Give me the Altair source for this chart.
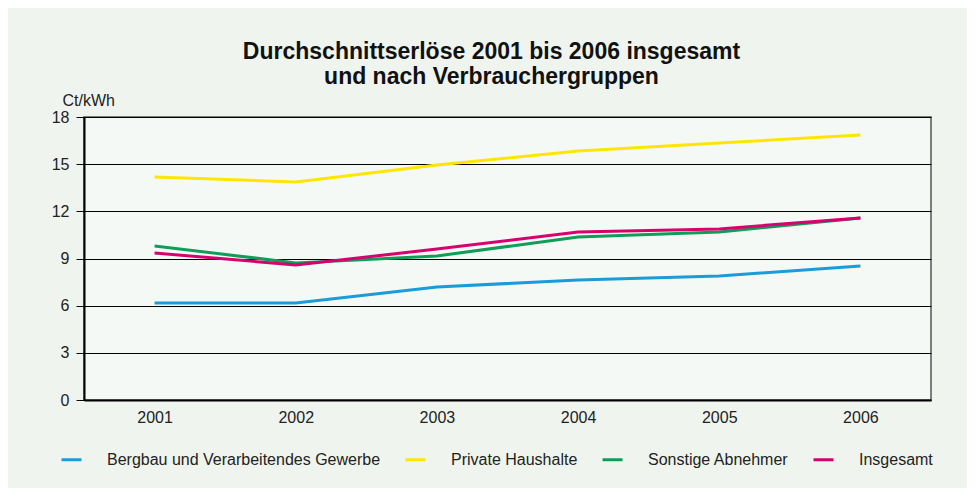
import altair as alt
import pandas as pd

years = ["2001", "2002", "2003", "2004", "2005", "2006"]
bergbau = [6.17, 6.17, 7.19, 7.63, 7.89, 8.52]
private = [14.18, 13.87, 14.95, 15.84, 16.35, 16.86]
sonstige = [9.80, 8.72, 9.16, 10.37, 10.69, 11.58]
insgesamt = [9.35, 8.59, 9.60, 10.69, 10.88, 11.58]

series = ["Bergbau und Verarbeitendes Gewerbe", "Private Haushalte",
          "Sonstige Abnehmer", "Insgesamt"]
colors = ["#1a9cd8", "#ffe600", "#0f9d58", "#d8006f"]
y_ticks = [0, 3, 6, 9, 12, 15, 18]

rows = []
for name, vals in zip(series, [bergbau, private, sonstige, insgesamt]):
    for yr, v in zip(years, vals):
        rows.append({"Jahr": yr, "Wert": v, "Reihe": name})
df = pd.DataFrame(rows)

FONT = "Liberation Sans, Arial, sans-serif"

chart = alt.Chart(df).mark_line(strokeWidth=3).encode(
    x=alt.X("Jahr:O", sort=years, axis=alt.Axis(
        labelAngle=0, title=None, ticks=False, domainColor="black",
        domainWidth=2, labelFontSize=16, labelPadding=9, grid=False,
        labelColor="#222")),
    y=alt.Y("Wert:Q", scale=alt.Scale(domain=[0, 18], nice=False), axis=alt.Axis(
        values=y_ticks, title="Ct/kWh", titleAngle=0, titleX=-22, titleY=-12,
        titleAlign="left", titleBaseline="alphabetic", titleFontWeight="normal",
        titleFontSize=16, titleColor="#222", tickSize=8, tickColor="black",
        domainColor="black", domainWidth=2, gridColor="black", gridOpacity=1,
        gridWidth=1.2, labelFontSize=16, labelPadding=7, labelColor="#222")),
    color=alt.Color("Reihe:N", sort=series, scale=alt.Scale(domain=series, range=colors),
                    legend=alt.Legend(
                        orient="none", legendX=-24, legendY=331,
                        direction="horizontal", title=None, symbolType="stroke",
                        symbolSize=400, symbolStrokeWidth=3, labelFontSize=16,
                        labelOffset=24, columnPadding=18, padding=0,
                        labelLimit=0, labelColor="#222")),
).properties(
    width=847, height=283,
    title=alt.Title(
        ["Durchschnittserlöse 2001 bis 2006 insgesamt", "und nach Verbrauchergruppen"],
        fontSize=23, fontWeight="bold", lineHeight=25, anchor="middle",
        dx=-16, offset=3, color="#111", font=FONT),
).configure(
    background="#eff5ee",
    padding={"left": 76, "top": 109, "right": 36, "bottom": 88},
    autosize=alt.AutoSizeParams(type="none"),
    font=FONT,
).configure_view(
    fill="#f5f9f5", stroke="#555", strokeWidth=1.5
)

chart.save("out.html", embed_options={"renderer": "svg", "actions": False})
